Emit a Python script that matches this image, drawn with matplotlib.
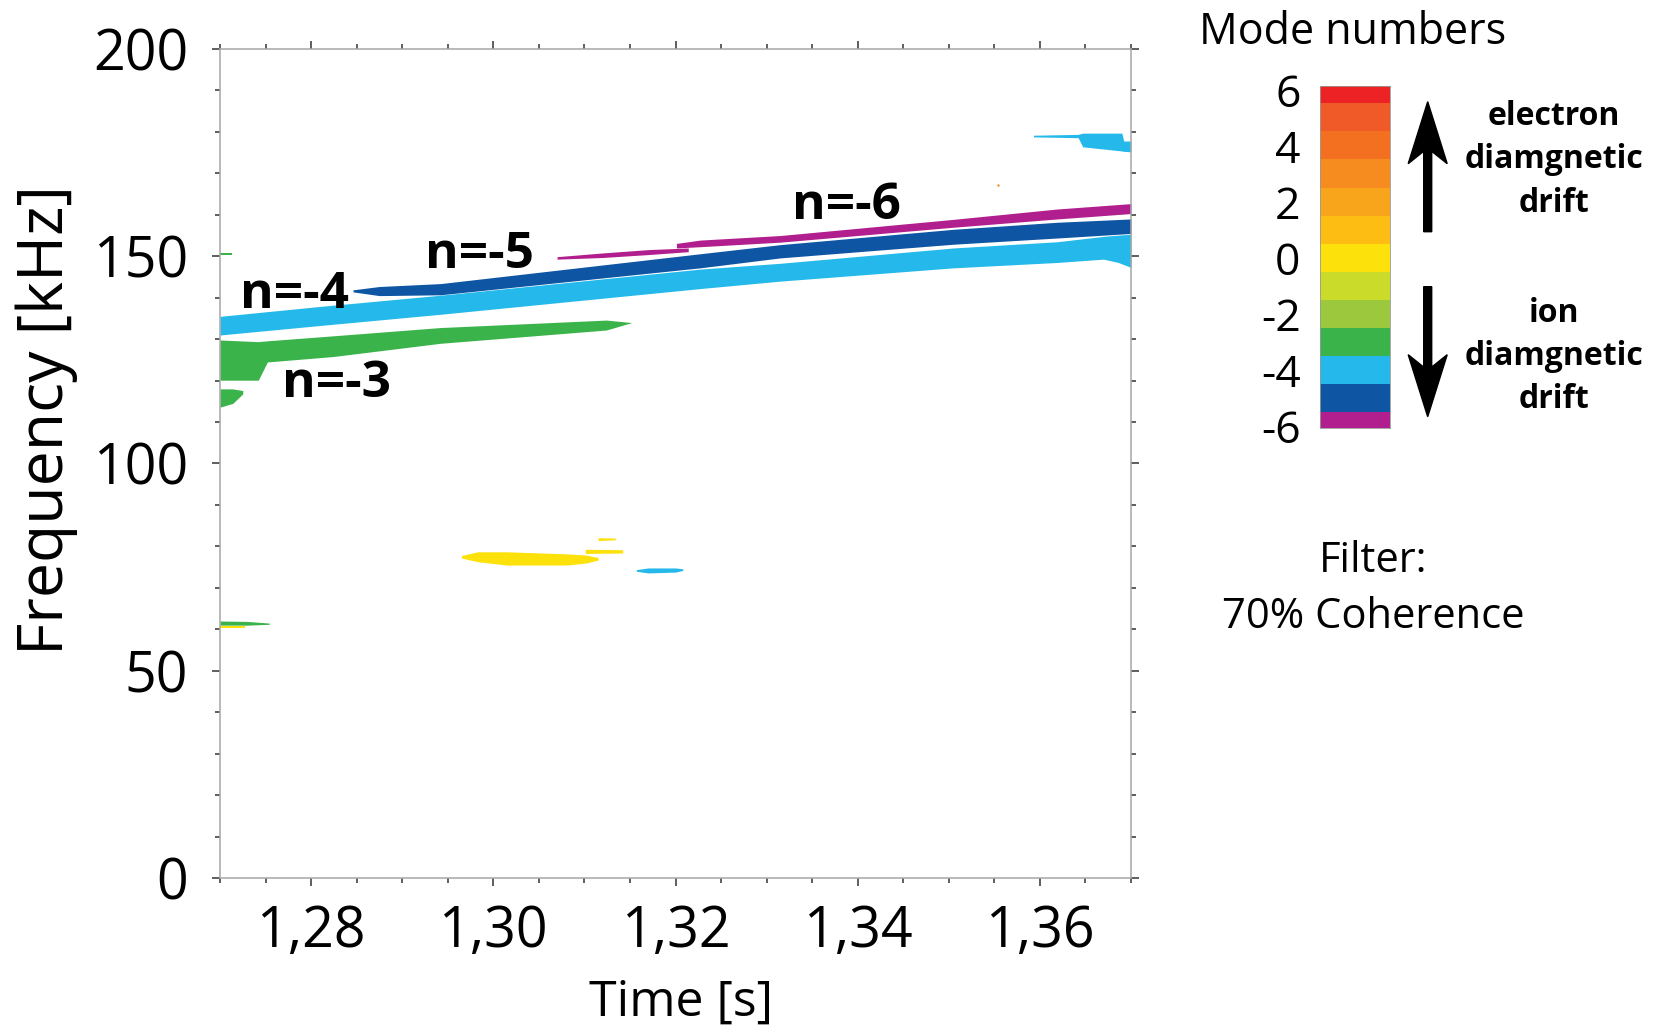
import numpy as np
import matplotlib
matplotlib.use('Agg')
import matplotlib.pyplot as plt
from matplotlib.colors import ListedColormap
from matplotlib.patches import FancyArrow
from matplotlib.ticker import MultipleLocator, FuncFormatter

plt.rcParams['font.family'] = ['Open Sans', 'DejaVu Sans']
plt.rcParams['axes.unicode_minus'] = False

# mode number colour scale
mode_levels = [-6, -5, -4, -3, -2, -1, 0, 1, 2, 3, 4, 5, 6]
mode_colors = ['#B11F8E', '#0E55A3', '#24B9EA', '#3AB44A', '#9BC83D', '#CBDB2A',
               '#FCE10B', '#FDBD13', '#F9A51B', '#F68B1F', '#F37021', '#F05A28', '#ED2224']
color_of = dict(zip(mode_levels, mode_colors))

# coherent mode bands: time [s], lower / upper frequency [kHz]
n4_t = [1.2700, 1.2810, 1.2942, 1.3227, 1.3315, 1.3505, 1.3619, 1.3670, 1.3686, 1.3700]
n4_lo = [131.0, 133.3, 136.0, 142.2, 144.0, 147.2, 148.5, 149.3, 148.5, 147.3]
n4_hi = [135.5, 137.9, 140.6, 146.9, 148.3, 152.0, 153.5, 154.8, 155.1, 155.3]

n5_t = [1.2846, 1.2875, 1.2942, 1.3227, 1.3315, 1.3505, 1.3619, 1.3700]
n5_lo = [141.4, 140.5, 140.7, 147.2, 149.6, 152.9, 154.4, 155.5]
n5_hi = [141.9, 142.7, 143.4, 150.6, 152.8, 156.5, 158.2, 159.0]

n6a_t = [1.3070, 1.3120, 1.3170, 1.3214]
n6a_lo = [149.3, 149.7, 150.4, 151.1]
n6a_hi = [149.9, 150.8, 151.6, 152.0]
n6b_t = [1.3201, 1.3227, 1.3315, 1.3505, 1.3619, 1.3700]
n6b_lo = [152.0, 152.3, 153.4, 157.0, 159.0, 160.3]
n6b_hi = [153.1, 153.9, 155.0, 158.9, 161.4, 162.7]

n3_t = [1.2700, 1.2742, 1.2752, 1.2824, 1.2942, 1.3124, 1.3152]
n3_lo = [120.1, 120.1, 124.5, 125.8, 129.0, 132.2, 134.0]
n3_hi = [129.8, 129.4, 129.6, 130.8, 132.8, 134.6, 134.0]

# small patches
g115_t = [1.2700, 1.2714, 1.2725]
g115_lo = [113.6, 114.5, 116.8]
g115_hi = [118.0, 118.0, 117.6]
g150_t = [1.2700, 1.2713]
g150_lo = [150.3, 150.3]
g150_hi = [150.9, 150.9]
g61_t = [1.2700, 1.2730, 1.2754]
g61_lo = [61.0, 61.0, 61.2]
g61_hi = [62.0, 61.9, 61.5]
y60_t = [1.2700, 1.2727]
y60_lo = [60.4, 60.4]
y60_hi = [60.9, 60.9]
y77_t = [1.2965, 1.2983, 1.3015, 1.3081, 1.3102, 1.3115]
y77_lo = [77.2, 76.3, 75.5, 75.5, 76.0, 76.7]
y77_hi = [77.8, 78.7, 78.7, 78.2, 77.9, 77.3]
y79_t = [1.3101, 1.3142]
y79_lo = [78.3, 78.4]
y79_hi = [79.3, 79.2]
y82_t = [1.3115, 1.3134]
y82_lo = [81.4, 81.6]
y82_hi = [82.1, 82.0]
c74_t = [1.3157, 1.3170, 1.3200, 1.3208]
c74_lo = [74.0, 73.6, 73.8, 74.2]
c74_hi = [74.4, 74.8, 74.8, 74.6]
c178_t = [1.3593, 1.3642, 1.3647, 1.3690, 1.3692, 1.3700]
c178_lo = [178.8, 178.6, 176.4, 175.4, 175.3, 175.2]
c178_hi = [179.2, 179.4, 179.7, 179.7, 177.8, 177.8]
dot_t, dot_f = 1.3554, 167.2

bands = [
    (-4, n4_t, n4_lo, n4_hi), (-5, n5_t, n5_lo, n5_hi),
    (-6, n6a_t, n6a_lo, n6a_hi), (-6, n6b_t, n6b_lo, n6b_hi),
    (-3, n3_t, n3_lo, n3_hi), (-3, g115_t, g115_lo, g115_hi),
    (-3, g150_t, g150_lo, g150_hi), (0, y60_t, y60_lo, y60_hi),
    (-3, g61_t, g61_lo, g61_hi), (0, y77_t, y77_lo, y77_hi),
    (0, y79_t, y79_lo, y79_hi), (0, y82_t, y82_lo, y82_hi),
    (-4, c74_t, c74_lo, c74_hi), (-4, c178_t, c178_lo, c178_hi),
]

labels = ['n=-4', 'n=-5', 'n=-6', 'n=-3']
label_t = [1.2782, 1.2985, 1.3388, 1.2828]
label_f = [137.6, 147.1, 158.9, 116.1]

W, H = 1657, 1031
fig = plt.figure(figsize=(W / 100, H / 100), dpi=100)
ax = fig.add_axes([220 / W, 1 - 878 / H, 911 / W, 829 / H])

for mode, t, lo, hi in bands:
    ax.fill_between(t, lo, hi, color=color_of[mode], linewidth=0)
ax.scatter([dot_t], [dot_f], s=3, color=color_of[3], linewidths=0)

for s, t, f in zip(labels, label_t, label_f):
    ax.text(t, f, s, ha='center', va='baseline', fontsize=37, fontweight='bold')

ax.set_xlim(1.27, 1.37)
ax.set_ylim(0, 200)
ax.xaxis.set_major_locator(MultipleLocator(0.02))
ax.xaxis.set_minor_locator(MultipleLocator(0.005))
ax.yaxis.set_major_locator(MultipleLocator(50))
ax.yaxis.set_minor_locator(MultipleLocator(10))
ax.xaxis.set_major_formatter(FuncFormatter(lambda v, p: f'{v:.2f}'.replace('.', ',')))
ax.yaxis.set_major_formatter(FuncFormatter(lambda v, p: f'{v:.0f}'))

ax.tick_params(which='both', direction='out', top=True, right=True,
               color='#333333', width=1.1, labelsize=40)
ax.tick_params(which='major', length=5.8)
ax.tick_params(which='minor', length=3.6)
ax.tick_params(axis='x', pad=13)
ax.tick_params(axis='y', pad=17)
for sp in ax.spines.values():
    sp.set_color('#a6a6a6')
    sp.set_linewidth(1.1)

ax.set_xlabel('Time [s]', fontsize=36, va='baseline')
ax.xaxis.set_label_coords(0.5055, -0.1655)
ax.set_ylabel('Frequency [kHz]', fontsize=45, va='center', ha='center')
ax.yaxis.set_label_coords(-0.1904, 0.5525)

# colour bar of mode numbers
cax = fig.add_axes([1320 / W, 1 - 428.3 / H, 70 / W, 342.3 / H])
cmap = ListedColormap(mode_colors)
cax.imshow(np.array(mode_levels).reshape(-1, 1), cmap=cmap, origin='lower',
           extent=[0, 1, -6.5, 6.5], aspect='auto', vmin=-6.5, vmax=6.5,
           interpolation='nearest')
cax.set_ylim(-6.07, 6.15)
cax.set_xticks([])
cax.set_yticks([-6, -4, -2, 0, 2, 4, 6])
cax.tick_params(axis='y', length=0, pad=14, labelsize=32)
for sp in cax.spines.values():
    sp.set_color('#999999')
    sp.set_linewidth(0.6)

fig.text(1353 / W, 1 - 44.4 / H, 'Mode numbers', ha='center', va='baseline', fontsize=31)

up_lines = ['electron', 'diamgnetic', 'drift']
up_base = [125.0, 168.3, 211.7]
down_lines = ['ion', 'diamgnetic', 'drift']
down_base = [321.7, 365.0, 408.3]
for s, b in zip(up_lines + down_lines, up_base + down_base):
    fig.text(1554 / W, 1 - b / H, s, ha='center', va='baseline',
             fontsize=23, fontweight='bold')

arrow_x = 1427.7 / W
for tail, tip in [(231.7, 101.7), (286.7, 416.7)]:
    fig.add_artist(FancyArrow(arrow_x, 1 - tail / H, 0, (tail - tip) / H,
                              width=8 / W, head_width=39 / W, head_length=62 / H,
                              length_includes_head=True, overhang=0.2,
                              color='black', transform=fig.transFigure))

fig.text(1373 / W, 1 - 571.7 / H, 'Filter:', ha='center', va='baseline', fontsize=30)
fig.text(1373 / W, 1 - 628.3 / H, '70% Coherence', ha='center', va='baseline', fontsize=30)

fig.savefig('out.png', dpi=100)
